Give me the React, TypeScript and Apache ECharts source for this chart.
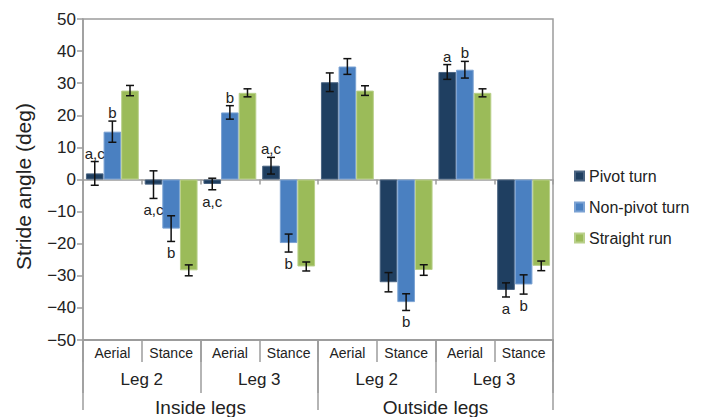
import React, { useEffect, useRef } from "react";
import * as echarts from "echarts";

const phases = ["Aerial", "Stance", "Aerial", "Stance", "Aerial", "Stance", "Aerial", "Stance"];
const legs = ["Leg 2", "Leg 3", "Leg 2", "Leg 3"];
const sides = ["Inside legs", "Outside legs"];
const categories = [
  "Inside Leg 2 Aerial",
  "Inside Leg 2 Stance",
  "Inside Leg 3 Aerial",
  "Inside Leg 3 Stance",
  "Outside Leg 2 Aerial",
  "Outside Leg 2 Stance",
  "Outside Leg 3 Aerial",
  "Outside Leg 3 Stance",
];

const seriesNames = ["Pivot turn", "Non-pivot turn", "Straight run"];

const pivot = [1.9, -1.6, -1.4, 4.3, 30.3, -32.0, 33.5, -34.4];
const pivotErr = [3.7, 4.3, 1.8, 2.6, 2.9, 3.0, 2.3, 2.2];
const nonPivot = [14.9, -15.3, 20.9, -19.8, 35.2, -38.2, 34.2, -32.7];
const nonPivotErr = [3.3, 4.0, 2.1, 2.8, 2.45, 2.6, 2.6, 3.0];
const straight = [27.7, -28.3, 27.0, -27.1, 27.7, -28.2, 27.0, -26.9];
const straightErr = [1.6, 1.7, 1.25, 1.4, 1.5, 1.65, 1.25, 1.5];

const pivotLabels = ["a,c", "a,c", "a,c", "a,c", "", "", "a", "a"];
const nonPivotLabels = ["b", "b", "b", "b", "", "b", "b", "b"];
const straightLabels = ["", "", "", "", "", "", "", ""];

const values = [pivot, nonPivot, straight];
const errors = [pivotErr, nonPivotErr, straightErr];
const labels = [pivotLabels, nonPivotLabels, straightLabels];
const colors = ["#1f3f61", "#4a80c1", "#9bbb59"];
const borders = ["#4a6482", "#7ba2d3", "#b9d08a"];

const FONT = "'Liberation Sans', Arial, sans-serif";
const GREY = "#9c9c9c";
const TEXT = "#222222";

export default function App() {
  const ref = useRef<HTMLDivElement>(null);

  useEffect(() => {
    if (!ref.current) return;
    const chart = echarts.init(ref.current, undefined, { renderer: "svg" });

    const barSeries = seriesNames.map((name, s) => ({
      name,
      type: "bar",
      xAxisIndex: 0,
      yAxisIndex: 0,
      data: values[s],
      barGap: "0%",
      barCategoryGap: "10%",
      itemStyle: { color: colors[s], borderColor: borders[s], borderWidth: 1 },
      z: 2,
    }));

    const errSeries = seriesNames.map((name, s) => ({
      name: name + " error",
      type: "custom",
      xAxisIndex: 0,
      yAxisIndex: 0,
      z: 5,
      encode: { x: 0, y: [1, 2] },
      data: values[s].map((v, i) => [i, v - errors[s][i], v + errors[s][i]]),
      renderItem: (params: any, api: any) => {
        const i = api.value(0);
        const lo = api.coord([i, api.value(1)]);
        const hi = api.coord([i, api.value(2)]);
        const band = api.size([1, 0])[0];
        const barW = (band * 0.9) / 3;
        const x = lo[0] + (s - 1) * barW;
        const cap = 4;
        const st = { stroke: "#111111", lineWidth: 1.5 };
        const children: any[] = [
          { type: "line", shape: { x1: x, y1: lo[1], x2: x, y2: hi[1] }, style: st },
          { type: "line", shape: { x1: x - cap, y1: lo[1], x2: x + cap, y2: lo[1] }, style: st },
          { type: "line", shape: { x1: x - cap, y1: hi[1], x2: x + cap, y2: hi[1] }, style: st },
        ];
        const txt = labels[s][params.dataIndex];
        if (txt) {
          const positive = values[s][params.dataIndex] >= 0;
          children.push({
            type: "text",
            x,
            y: positive ? hi[1] - 1 : lo[1] + 4,
            style: {
              text: txt,
              fill: TEXT,
              font: "15px " + FONT,
              align: "center",
              verticalAlign: positive ? "bottom" : "top",
            },
          });
        }
        return { type: "group", children };
      },
    }));

    const levelAxis = (data: string[], tickLen: number, fontSize: number, margin: number) => ({
      type: "category",
      gridIndex: 0,
      position: "bottom",
      data,
      axisLine: { show: true, onZero: false, lineStyle: { color: GREY, width: 1.5 } },
      axisTick: { show: true, length: tickLen, interval: 0, lineStyle: { color: GREY, width: 1.5 } },
      axisLabel: { show: true, interval: 0, fontSize, margin, color: TEXT, fontFamily: FONT },
      splitLine: { show: false },
    });

    chart.setOption({
      animation: false,
      textStyle: { fontFamily: FONT },
      grid: {
        left: 83,
        right: 151,
        top: 19,
        bottom: 77,
        show: true,
        borderColor: GREY,
        borderWidth: 1.5,
        backgroundColor: "transparent",
      },
      legend: {
        orient: "vertical",
        left: 574,
        top: 168,
        padding: 0,
        itemWidth: 9,
        itemHeight: 9,
        itemGap: 15,
        icon: "rect",
        data: seriesNames,
        textStyle: { fontSize: 16, color: TEXT, fontFamily: FONT },
      },
      xAxis: [
        {
          type: "category",
          data: categories,
          axisLine: { show: true, onZero: true, lineStyle: { color: GREY, width: 1.5 } },
          axisTick: { show: true, length: 5, interval: 0, lineStyle: { color: GREY, width: 1.5 } },
          axisLabel: { show: false },
          splitLine: { show: false },
        },
        levelAxis(phases, 22, 14, 6),
        levelAxis(legs, 53, 17, 31),
        levelAxis(sides, 70, 19, 58),
      ],
      yAxis: {
        type: "value",
        min: -50,
        max: 50,
        interval: 10,
        name: "Stride angle (deg)",
        nameLocation: "middle",
        nameGap: 49,
        nameTextStyle: { fontSize: 21, color: TEXT, fontFamily: FONT, padding: [0, 14, 0, 0] },
        axisLine: { show: true, lineStyle: { color: GREY, width: 1.5 } },
        axisTick: { show: true, length: 6, lineStyle: { color: GREY, width: 1.5 } },
        axisLabel: {
          fontSize: 17,
          color: TEXT,
          margin: 7,
          fontFamily: FONT,
          formatter: (v: number) => (v < 0 ? "\u2212" + Math.abs(v) : String(v)),
        },
        splitLine: { show: false },
      },
      series: [...barSeries, ...errSeries],
    });

    return () => chart.dispose();
  }, []);

  return (
    <div
      ref={ref}
      style={{ position: "fixed", left: 0, top: 0, width: 704, height: 417, background: "#ffffff" }}
    />
  );
}
